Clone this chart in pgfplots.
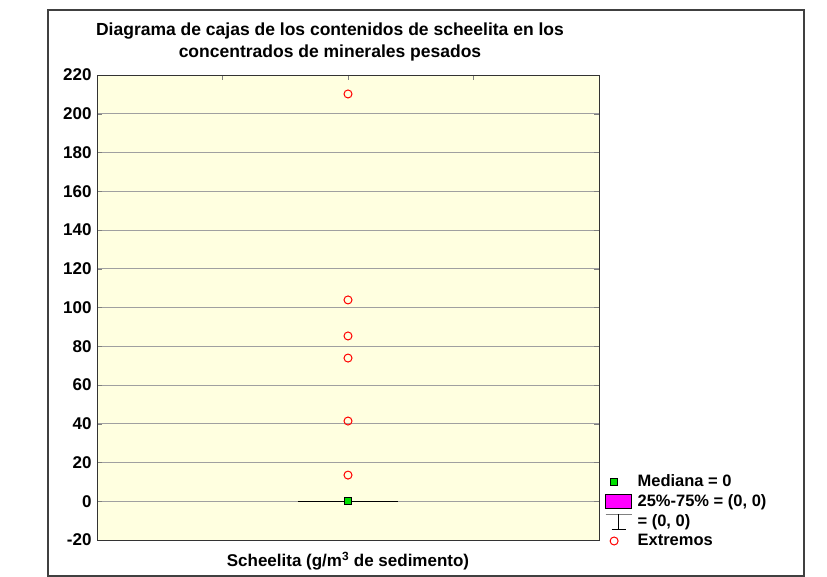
\documentclass[border=0pt]{standalone}
\usepackage{fontspec}
\setmainfont{Liberation Sans}
\usepackage{pgfplots}
\pgfplotsset{compat=1.18}
\definecolor{bgy}{HTML}{FFFFE0}
\definecolor{gridg}{HTML}{A0A0A0}
\definecolor{mag}{HTML}{FF00FF}
\definecolor{grn}{HTML}{00E000}
\begin{document}
\begin{tikzpicture}[x=1pt,y=1pt]
\path (0,0) rectangle (827,577);
\draw[line width=1.2pt, black!75] (48,1) rectangle (804,567);
\node[font=\bfseries\fontsize{17.5}{22}\selectfont, align=center] at (330,535) {Diagrama de cajas de los contenidos de scheelita en los\\concentrados de minerales pesados};
\node[font=\bfseries\fontsize{17}{17}\selectfont] at (348,16) {Scheelita (g/m\textsuperscript{3} de sedimento)};
\begin{axis}[at={(97pt,37pt)}, anchor=south west, scale only axis,
  width=502pt, height=465pt,
  xmin=0, xmax=2, ymin=-20, ymax=220,
  ytick={-20,0,20,...,220},
  xtick={0.5,1,1.5}, xticklabels={}, xtick pos=right,
  ytick pos=both,
  tick align=inside, major tick length=5pt,
  ymajorgrids, grid style={gridg, line width=0.8pt},
  axis line style={black!80, line width=0.8pt},
  axis background/.style={fill=bgy},
  /pgf/number format/assume math mode=true,
  yticklabel style={font=\bfseries\fontsize{17}{17}\selectfont, xshift=-2pt},
  legend style={at={(1.008,-0.025)}, anchor=south west, draw=none, fill=white,
    font=\bfseries\fontsize{16.5}{16.5}\selectfont, row sep=2.5pt, inner sep=2pt},
  legend cell align=left,
  clip=false,
]
\addplot[black, line width=1.2pt, forget plot] coordinates {(0.8,0) (1.2,0)};
\addplot[only marks, mark=square*, mark size=3.5pt, mark options={fill=grn, draw=black, line width=0.6pt},
  legend image code/.code={\path[draw=none,fill=none] (0pt,0pt) rectangle (30pt,1pt); \draw[fill=grn, draw=black, line width=0.6pt] (5pt,-3.5pt) rectangle (12pt,3.5pt);}] coordinates {(1,0)};
\addlegendentry{Mediana = 0}
\addlegendimage{legend image code/.code={\path[draw=none,fill=none] (0pt,0pt) rectangle (30pt,1pt); \draw[fill=mag, draw=black, line width=0.6pt] (0pt,-7pt) rectangle (26pt,7pt);}}
\addlegendentry{25\%-75\% = (0, 0)}
\addlegendimage{legend image code/.code={\path[draw=none,fill=none] (0pt,0pt) rectangle (30pt,1pt); \draw[gray, line width=0.8pt] (0pt,7pt)--(26pt,7pt); \draw[black, line width=0.8pt] (13pt,7pt)--(13pt,-8pt); \draw[black, line width=0.8pt] (6pt,-8pt)--(20pt,-8pt);}}
\addlegendentry{= (0, 0)}
\addplot[only marks, mark=o, mark size=4pt, mark options={red, line width=1pt},
  legend image code/.code={\path[draw=none,fill=none] (0pt,0pt) rectangle (30pt,1pt); \draw[red, line width=1pt] (8.5pt,0pt) circle (4pt);}] coordinates {(1,13.5) (1,41.4) (1,73.9) (1,85.3) (1,103.9) (1,210.2)};
\addlegendentry{Extremos}
\end{axis}
\end{tikzpicture}
\end{document}
